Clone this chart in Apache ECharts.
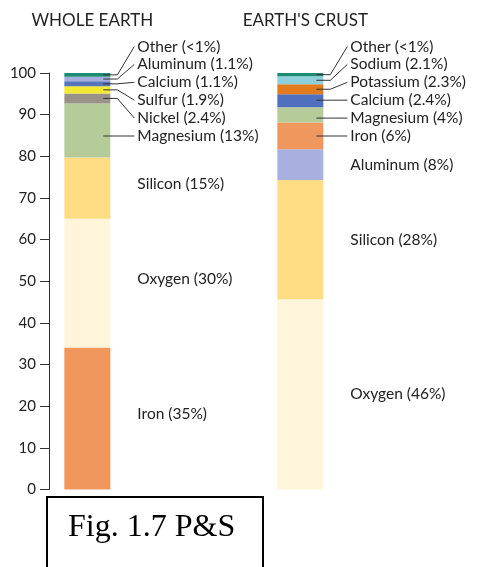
<!DOCTYPE html>
<html>
<head>
<meta charset="utf-8">
<script src="https://cdn.jsdelivr.net/npm/echarts@6/dist/echarts.min.js"></script>
<style>html,body{margin:0;padding:0;background:#fff;}#c{width:477px;height:567px;}</style>
</head>
<body>
<div id="c"></div>
<script>
// ---- data (bottom to top) ----
const columns = ['WHOLE EARTH', "EARTH'S CRUST"];
const columnPos = [9, 59];

const wholeNames  = ['Iron', 'Oxygen', 'Silicon', 'Magnesium', 'Nickel', 'Sulfur', 'Calcium', 'Aluminum', 'Other'];
const wholeValues = [34.1, 30.9, 14.7, 13.0, 2.4, 1.7, 1.2, 1.1, 0.9];
const wholeLabels = ['Iron (35%)', 'Oxygen (30%)', 'Silicon (15%)', 'Magnesium (13%)', 'Nickel (2.4%)', 'Sulfur (1.9%)', 'Calcium (1.1%)', 'Aluminum (1.1%)', 'Other (<1%)'];
const wholeSlots  = [-1, -1, -1, 5, 4, 3, 2, 1, 0];

const crustNames  = ['Oxygen', 'Silicon', 'Aluminum', 'Iron', 'Magnesium', 'Calcium', 'Potassium', 'Sodium', 'Other'];
const crustValues = [45.7, 28.6, 7.4, 6.4, 3.7, 3.1, 2.4, 1.9, 0.8];
const crustLabels = ['Oxygen (46%)', 'Silicon (28%)', 'Aluminum (8%)', 'Iron (6%)', 'Magnesium (4%)', 'Calcium (2.4%)', 'Potassium (2.3%)', 'Sodium (2.1%)', 'Other (<1%)'];
const crustSlots  = [-1, -1, -1, 5, 4, 3, 2, 1, 0];

const yTicks = [0, 10, 20, 30, 40, 50, 60, 70, 80, 90, 100];

// ---- styles ----
const wholeColorOf = {
  Iron: '#F0975E', Oxygen: '#FEF5DA', Silicon: '#FDDC84', Magnesium: '#B6CB9A',
  Nickel: '#9A9288', Sulfur: '#F2E932', Calcium: '#5675BD', Aluminum: '#A6AEDF',
  Other: '#1C8B73'
};
const crustColorOf = {
  Iron: '#F0975E', Oxygen: '#FEF5DA', Silicon: '#FDDC84', Magnesium: '#B6CB9A',
  Calcium: '#4E70BF', Aluminum: '#A8B0E0', Potassium: '#E27A1E', Sodium: '#8DCFDB',
  Other: '#1C8B73'
};
const FONT = 'Lato';
const TXT = '#222';
const BAR_W = 46;
const LABEL_DX = 50;

// ---- build stacked segment data: [x, start, end, slot] ----
const segData = [], segTexts = [], segColors = [];
function addCol(pos, names, vals, texts, slots, colors) {
  let acc = 0;
  for (let i = 0; i < vals.length; i++) {
    segData.push([pos, acc, acc + vals[i], slots[i]]);
    segTexts.push(texts[i]);
    segColors.push(colors[names[i]]);
    acc += vals[i];
  }
}
addCol(columnPos[0], wholeNames, wholeValues, wholeLabels, wholeSlots, wholeColorOf);
addCol(columnPos[1], crustNames, crustValues, crustLabels, crustSlots, crustColorOf);

const barSeries = {
  type: 'custom', coordinateSystem: 'cartesian2d', z: 2, silent: true,
  encode: { x: 0, y: [1, 2] },
  data: segData,
  renderItem: function (params, api) {
    const x = api.value(0);
    const pTop = api.coord([x, api.value(2)]);
    const pBot = api.coord([x, api.value(1)]);
    return {
      type: 'rect',
      shape: { x: pTop[0] - BAR_W / 2, y: pTop[1], width: BAR_W, height: pBot[1] - pTop[1] },
      style: { fill: segColors[params.dataIndex] }
    };
  }
};

const labelSeries = {
  type: 'custom', coordinateSystem: 'cartesian2d', z: 5, silent: true, clip: false,
  encode: { x: 0, y: [1, 2] },
  data: segData,
  renderItem: function (params, api) {
    const x = api.value(0), slot = api.value(3);
    const pTop = api.coord([x, api.value(2)]), pBot = api.coord([x, api.value(1)]);
    const cx = pTop[0];
    const yMid = (pTop[1] + pBot[1]) / 2;
    const lx = cx + LABEL_DX;
    const textStyle = { x: lx, text: segTexts[params.dataIndex], fill: TXT, font: '15.5px ' + FONT, verticalAlign: 'middle', align: 'left' };
    if (slot < 0) {
      textStyle.y = yMid + (x === columnPos[0] ? -4 : 0);
      return { type: 'text', style: textStyle };
    }
    const ly = params.coordSys.y - 26.5 + slot * 17.9;
    let sy = yMid;
    if (ly > pTop[1] + 2 && ly < pBot[1] - 2) sy = ly;
    const half = BAR_W / 2;
    textStyle.y = ly;
    return {
      type: 'group',
      children: [
        { type: 'polyline', shape: { points: [[cx + half - 7, sy], [cx + half + 7, sy], [lx - 3, ly]] },
          style: { stroke: '#333', lineWidth: 1, fill: null } },
        { type: 'text', style: textStyle }
      ]
    };
  }
};

const chart = echarts.init(document.getElementById('c'), null, { renderer: 'canvas' });
chart.setOption({
  animation: false,
  backgroundColor: '#fff',
  grid: { left: 49, right: 2, top: 73, bottom: 77.5, containLabel: false },
  xAxis: {
    type: 'value', min: 0, max: 100, position: 'top',
    axisLine: { show: false }, axisTick: { show: false }, splitLine: { show: false },
    axisLabel: {
      customValues: columnPos,
      margin: 44,
      color: TXT, fontFamily: FONT, fontSize: 17,
      padding: [0, 0, 0, 10],
      formatter: function (v) { const k = columnPos.indexOf(v); return k >= 0 ? columns[k] : ''; }
    }
  },
  yAxis: {
    type: 'value', min: yTicks[0], max: yTicks[yTicks.length - 1], interval: 10,
    axisLine: { show: true, lineStyle: { color: '#333', width: 1 } },
    axisTick: { show: true, length: 9, lineStyle: { color: '#333' } },
    splitLine: { show: false },
    axisLabel: { color: TXT, fontFamily: FONT, fontSize: 15, margin: 13 }
  },
  graphic: [
    { type: 'rect', shape: { x: 47, y: 497, width: 216, height: 90 },
      style: { stroke: '#000', lineWidth: 2, fill: '#fff' }, z: 10 },
    { type: 'text', style: { x: 68, y: 528, text: 'Fig. 1.7 P&S', font: '32px "Liberation Serif"', fill: '#000', verticalAlign: 'middle' }, z: 11 }
  ],
  series: [barSeries, labelSeries]
});
</script>
</body>
</html>
